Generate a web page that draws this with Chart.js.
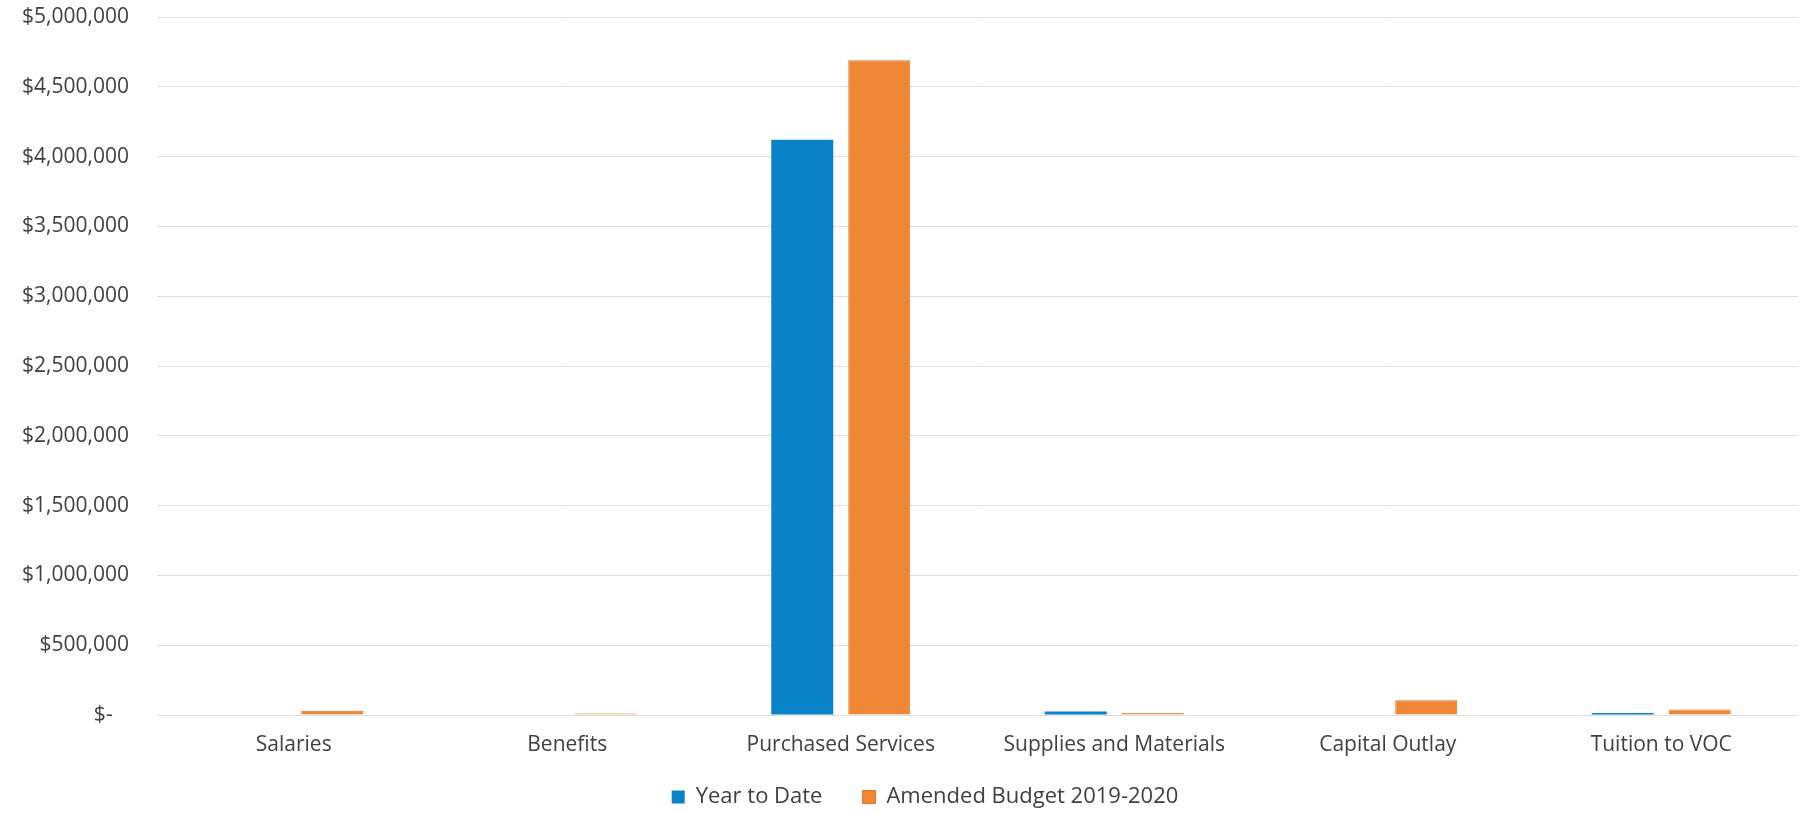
<!DOCTYPE html>
<html>
<head>
<meta charset="utf-8">
<script src="https://cdn.jsdelivr.net/npm/chart.js@4.4.1/dist/chart.umd.min.js"></script>
<style>
    html, body { margin: 0; padding: 0; background: #ffffff; }
    #wrap { width: 1802px; height: 815px; position: relative; }
</style>
</head>
<body>
<div id="wrap"><canvas id="budgetChart"></canvas></div>
<script>
// categories and series
const categories = ['Salaries', 'Benefits', 'Purchased Services', 'Supplies and Materials', 'Capital Outlay', 'Tuition to VOC'];
const yearToDate = [0, 0, 4120000, 25000, 0, 15000];
const amendedBudget = [30000, 10000, 4690000, 15000, 105000, 40000];
const seriesNames = ['Year to Date', 'Amended Budget 2019-2020'];
const yMax = 5000000;
const yStep = 500000;

const textColor = '#404040';
const fontFamily = '"Open Sans", "Noto Sans", sans-serif';

function moneyLabel(v) {
    if (v === 0) return '$-   ';
    return '$' + v.toLocaleString('en-US');
}

// the legend's padding is big (it also sets the gap between items),
// so pull the box back up and a bit to the right, like the original
const legendShift = {
    id: 'legendShift',
    afterLayout(chart) {
        const lg = chart.legend;
        if (lg) {
            lg.left += 26;
            lg.right += 26;
            lg.top -= 29;
            lg.bottom -= 29;
        }
    }
};

function createChart() {
    const ctx = document.getElementById('budgetChart').getContext('2d');
    new Chart(ctx, {
        type: 'bar',
        data: {
            labels: categories,
            datasets: [{
                label: seriesNames[0],
                data: yearToDate,
                backgroundColor: '#0a82c9',
                categoryPercentage: 0.563,
                barPercentage: 0.805
            }, {
                label: seriesNames[1],
                data: amendedBudget,
                backgroundColor: '#ef8636',
                borderColor: '#e4712a',
                borderWidth: 1,
                categoryPercentage: 0.563,
                barPercentage: 0.805
            }]
        },
        plugins: [legendShift],
        options: {
            responsive: true,
            maintainAspectRatio: false,
            animation: false,
            layout: { padding: { top: 17, right: 4, left: 0, bottom: -32 } },
            plugins: {
                tooltip: { enabled: false },
                legend: {
                    position: 'bottom',
                    labels: {
                        boxWidth: 13,
                        boxHeight: 13,
                        padding: 40,
                        color: textColor,
                        font: { family: fontFamily, size: 22 }
                    }
                }
            },
            scales: {
                x: {
                    afterFit: (scale) => { scale.height = 60; },
                    grid: { display: false, drawTicks: false },
                    border: { display: false },
                    ticks: {
                        color: textColor,
                        padding: 17,
                        maxRotation: 0,
                        font: { family: fontFamily, size: 21 }
                    }
                },
                y: {
                    min: 0,
                    max: yMax,
                    afterFit: (scale) => {
                        scale.width = 157;
                        scale.paddingTop = 0;
                        scale.paddingBottom = 0;
                    },
                    grid: { color: '#dedede', lineWidth: 1, drawTicks: false },
                    border: { display: false },
                    ticks: {
                        stepSize: yStep,
                        color: textColor,
                        padding: 28,
                        font: { family: fontFamily, size: 21 },
                        callback: (v) => moneyLabel(v)
                    }
                }
            }
        }
    });
}

document.addEventListener('DOMContentLoaded', createChart);
</script>
</body>
</html>
